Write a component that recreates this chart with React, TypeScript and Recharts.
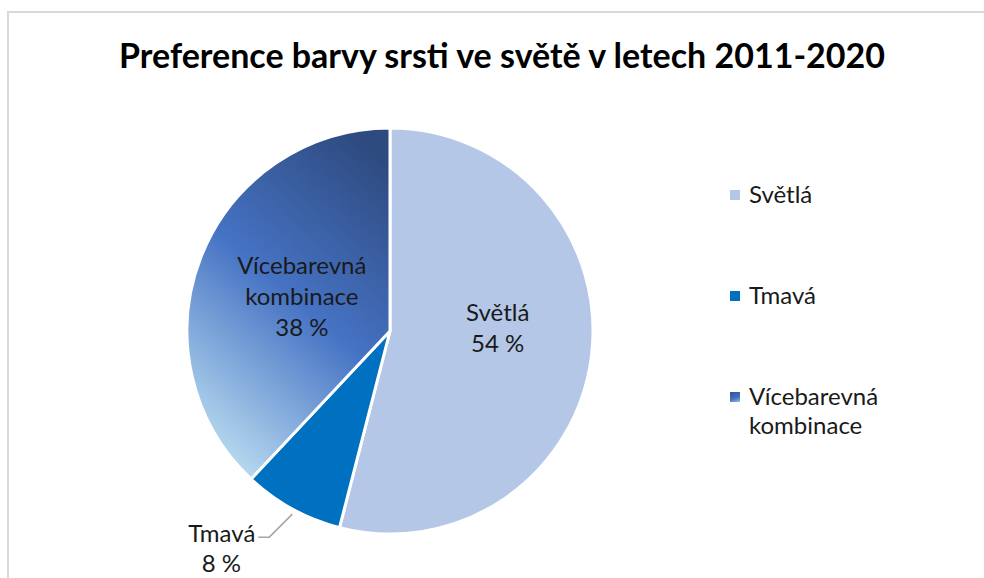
import { PieChart, Pie, Cell } from "recharts"

const categories = ["Světlá", "Tmavá", "Vícebarevná kombinace"]
const shares = [54, 8, 38]
const labelLines = [["Světlá"], ["Tmavá"], ["Vícebarevná", "kombinace"]]

const colors = ["#B4C7E7", "#0070C0", "url(#multiGrad)"]
const FONT = "Lato, 'Open Sans', sans-serif"
// small nudges so the inside labels sit where Excel put them
const labelNudge = [[3, -16], [0, 0], [10, 5]]

const data = categories.map((name, i) => ({ name, value: shares[i] }))

const RAD = Math.PI / 180

function renderLabel(props: any) {
    const { cx, cy, midAngle, outerRadius, index, value } = props
    const lines = [...labelLines[index], `${value} %`]
    if (index === 1) {
        // outside label with leader line
        const sx = cx + (outerRadius + 6) * Math.cos(-midAngle * RAD) + 3
        const sy = cy + (outerRadius + 6) * Math.sin(-midAngle * RAD)
        const mx = sx - 23
        const my = sy + 23
        const ex = mx - 11
        return (
            <g>
                <polyline
                    points={`${sx},${sy} ${mx},${my} ${ex},${my}`}
                    fill="none"
                    stroke="#A6A6A6"
                    strokeWidth={1.5}
                />
                <text x={ex - 3} y={my} dy={5} textAnchor="end" fill="#1a1a1a" fontSize={24} fontFamily={FONT}>
                    {lines[0]}
                </text>
                <text x={ex - 37} y={my} dy={35} textAnchor="middle" fill="#1a1a1a" fontSize={24} fontFamily={FONT}>
                    {lines[1]}
                </text>
            </g>
        )
    }
    const r = outerRadius * 0.52
    const x = cx + r * Math.cos(-midAngle * RAD) + labelNudge[index][0]
    const y = cy + r * Math.sin(-midAngle * RAD) + labelNudge[index][1]
    const lh = 31
    const top = y - ((lines.length - 1) * lh) / 2
    return (
        <text x={x} y={top} textAnchor="middle" fill="#1a1a1a" fontSize={24} fontFamily={FONT}>
            {lines.map((l, i) => (
                <tspan key={i} x={x} dy={i === 0 ? 8 : lh}>
                    {l}
                </tspan>
            ))}
        </text>
    )
}

function Legend() {
    const ys = [195, 296, 397]
    return (
        <div style={{ position: "absolute", left: 730, top: 0, fontFamily: FONT, fontSize: 24, color: "#1a1a1a" }}>
            {categories.map((c, i) => (
                <div key={c} style={{ position: "absolute", top: ys[i] - 16, left: 0, width: 240 }}>
                    <div
                        style={{
                            position: "absolute",
                            left: 0,
                            top: 11,
                            width: 10,
                            height: 10,
                            background: i === 2 ? "linear-gradient(160deg, #2F528F, #4472C4 60%, #9DBDE6)" : colors[i],
                        }}
                    />
                    <div style={{ marginLeft: 19, lineHeight: "29px" }}>
                        {labelLines[i].map((l) => (
                            <div key={l}>{l}</div>
                        ))}
                    </div>
                </div>
            ))}
        </div>
    )
}

export default function App() {
    return (
        <div style={{ position: "absolute", left: 0, top: 0, width: 984, height: 578, overflow: "hidden", background: "#fff" }}>
            <div
                style={{
                    position: "absolute",
                    left: 7,
                    top: 11,
                    width: 1100,
                    height: 700,
                    border: "2px solid #D9D9D9",
                }}
            />
            <div
                style={{
                    position: "absolute",
                    left: 0,
                    top: 34,
                    width: 1004,
                    textAlign: "center",
                    fontFamily: FONT,
                    fontWeight: 700,
                    fontSize: 34,
                    color: "#000",
                }}
            >
                Preference barvy srsti ve světě v letech 2011-2020
            </div>
            <div style={{ position: "absolute", left: 0, top: 0 }}>
                <PieChart width={984} height={578} margin={{ top: 0, right: 0, bottom: 0, left: 0 }}>
                    <defs>
                        <linearGradient id="multiGrad" x1="0.8" y1="0" x2="0.3" y2="1">
                            <stop offset="0%" stopColor="#2E4A7F" />
                            <stop offset="50%" stopColor="#4673C4" />
                            <stop offset="100%" stopColor="#B7DAEF" />
                        </linearGradient>
                    </defs>
                    <Pie
                        data={data}
                        dataKey="value"
                        nameKey="name"
                        cx={390}
                        cy={331}
                        outerRadius={203}
                        startAngle={90}
                        endAngle={-270}
                        stroke="#fff"
                        strokeWidth={3}
                        label={renderLabel}
                        labelLine={false}
                        isAnimationActive={false}
                    >
                        {data.map((d, i) => (
                            <Cell key={d.name} fill={colors[i]} />
                        ))}
                    </Pie>
                </PieChart>
            </div>
            <Legend />
        </div>
    )
}
